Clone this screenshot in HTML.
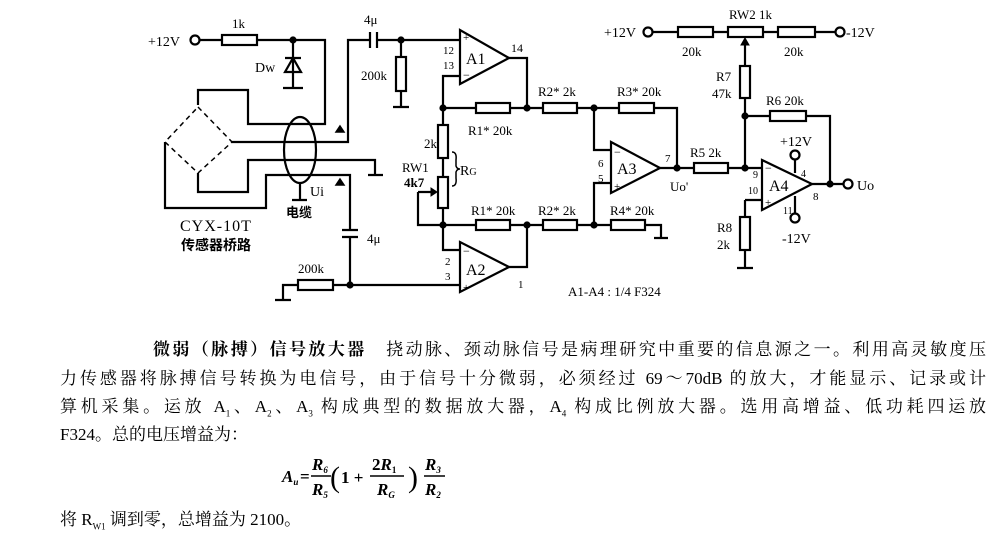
<!DOCTYPE html>
<html><head><meta charset="utf-8"><style>
html,body{margin:0;padding:0;background:#fff;}
body{width:992px;height:558px;position:relative;overflow:hidden;}
svg{position:absolute;left:0;top:0;}
.t{position:absolute;font-family:"Liberation Serif","Noto Serif CJK SC","Noto Sans CJK SC",serif;font-size:17px;color:#000;white-space:nowrap;line-height:22px;}
.j{text-align:justify;text-align-last:justify;white-space:normal;}
sub{line-height:0;}
</style></head><body>
<svg width="992" height="330" viewBox="0 0 992 330" font-family="Liberation Serif, serif" font-size="13" fill="none" stroke="#000" stroke-width="2.2">
<text x="148" y="46" fill="#000" stroke="none" font-size="14">+12V</text>
<circle cx="195" cy="40" r="4.5" fill="#fff"/>
<path d="M200 40H222M257 40H325V124H248V90H198V105"/>
<rect x="222" y="35" width="35" height="10" fill="#fff"/>
<text x="232" y="28" fill="#000" stroke="none">1k</text>
<circle cx="293" cy="40" r="2.5" fill="#000"/>
<path d="M293 40V88M283 88H303M285 72H301L293 58Z M285 58H301"/>
<text x="255" y="72" fill="#000" stroke="none" font-size="14">Dw</text>
<path d="M198 107L232 142L198 173L165 142Z" stroke-dasharray="5,4" stroke-width="1.5"/>
<path d="M232 142H348V40H370M377 40H460M370 32V48M377 32V48"/>
<text x="364" y="24" fill="#000" stroke="none">4μ</text>
<path d="M198 173V192H248V160H375V175M368 175H383"/>
<path d="M165 142V208H266V175H350V230M342 230H358M342 237H358M350 237V285H460"/>
<text x="367" y="243" fill="#000" stroke="none">4μ</text>
<ellipse cx="300" cy="150" rx="16" ry="33"/>
<path d="M300 183V200M292 200H307"/>
<path d="M340 126L344 132L336 132Z M340 179L344 185L336 185Z" fill="#000" stroke-width="1.5"/>
<text x="310" y="196" fill="#000" stroke="none" font-size="14">Ui</text>
<text x="286" y="217" fill="#000" stroke="none" font-size="13" font-weight="bold" font-family="Noto Sans CJK SC, sans-serif">电缆</text>
<text x="180" y="231" fill="#000" stroke="none" font-size="16" letter-spacing="1">CYX-10T</text>
<text x="181" y="250" fill="#000" stroke="none" font-size="14" font-weight="bold" font-family="Noto Sans CJK SC, sans-serif">传感器桥路</text>
<circle cx="401" cy="40" r="2.5" fill="#000"/>
<path d="M401 40V107M393 107H409"/>
<rect x="396" y="57" width="10" height="34" fill="#fff"/>
<text x="361" y="80" fill="#000" stroke="none">200k</text>
<path d="M460 30V84L509 58Z" fill="#fff"/>
<text x="466" y="64" fill="#000" stroke="none" font-size="16">A1</text>
<text x="463" y="41" fill="#000" stroke="none" font-size="11">+</text>
<text x="463" y="79" fill="#000" stroke="none" font-size="12">−</text>
<text x="443" y="54" fill="#000" stroke="none" font-size="11">12</text>
<text x="443" y="69" fill="#000" stroke="none" font-size="11">13</text>
<text x="511" y="52" fill="#000" stroke="none" font-size="12">14</text>
<path d="M509 58H527V108M460 76H443V250H460"/>
<path d="M443 108H594M527 225H594M443 225H527M509 267H527V225"/>
<rect x="476" y="103" width="34" height="10" fill="#fff"/>
<rect x="543" y="103" width="34" height="10" fill="#fff"/>
<circle cx="443" cy="108" r="2.5" fill="#000"/><circle cx="527" cy="108" r="2.5" fill="#000"/><circle cx="594" cy="108" r="2.5" fill="#000"/>
<text x="468" y="135" fill="#000" stroke="none">R1*  20k</text>
<text x="538" y="96" fill="#000" stroke="none">R2*  2k</text>
<rect x="438" y="125" width="10" height="33" fill="#fff"/>
<rect x="438" y="177" width="10" height="31" fill="#fff"/>
<path d="M418 192H435M418 192V225H443"/>
<path d="M437 192L431 188L431 196Z" fill="#000" stroke-width="1"/>
<text x="424" y="148" fill="#000" stroke="none">2k</text>
<text x="402" y="172" fill="#000" stroke="none">RW1</text>
<text x="404" y="187" fill="#000" stroke="none" font-weight="bold">4k7</text>
<path d="M452 152Q457 152 456 160V166Q457 169 460 169Q457 169 456 172V178Q457 186 452 186" stroke-width="1.5"/>
<text x="460" y="175" fill="#000" stroke="none" font-size="14">R<tspan font-size="10">G</tspan></text>
<rect x="476" y="220" width="34" height="10" fill="#fff"/>
<rect x="543" y="220" width="34" height="10" fill="#fff"/>
<circle cx="443" cy="225" r="2.5" fill="#000"/><circle cx="527" cy="225" r="2.5" fill="#000"/><circle cx="594" cy="225" r="2.5" fill="#000"/>
<text x="471" y="215" fill="#000" stroke="none">R1*  20k</text>
<text x="538" y="215" fill="#000" stroke="none">R2*  2k</text>
<path d="M460 242V292L509 267Z" fill="#fff"/>
<text x="466" y="275" fill="#000" stroke="none" font-size="16">A2</text>
<text x="463" y="255" fill="#000" stroke="none" font-size="12">−</text>
<text x="463" y="291" fill="#000" stroke="none" font-size="11">+</text>
<text x="445" y="265" fill="#000" stroke="none" font-size="11">2</text>
<text x="445" y="280" fill="#000" stroke="none" font-size="11">3</text>
<text x="518" y="288" fill="#000" stroke="none" font-size="11">1</text>
<circle cx="350" cy="285" r="2.5" fill="#000"/>
<path d="M350 285H283V300M275 300H291"/>
<rect x="298" y="280" width="35" height="10" fill="#fff"/>
<text x="298" y="273" fill="#000" stroke="none">200k</text>
<path d="M594 108V150H611M594 225V183H611M594 108H677V167M594 225H661V238M654 238H668"/>
<rect x="619" y="103" width="35" height="10" fill="#fff"/>
<rect x="611" y="220" width="34" height="10" fill="#fff"/>
<text x="617" y="96" fill="#000" stroke="none">R3*  20k</text>
<text x="610" y="215" fill="#000" stroke="none">R4*  20k</text>
<path d="M611 142V193L660 168Z" fill="#fff"/>
<text x="617" y="174" fill="#000" stroke="none" font-size="16">A3</text>
<text x="614" y="156" fill="#000" stroke="none" font-size="12">−</text>
<text x="614" y="190" fill="#000" stroke="none" font-size="11">+</text>
<text x="598" y="167" fill="#000" stroke="none" font-size="11">6</text>
<text x="598" y="182" fill="#000" stroke="none" font-size="11">5</text>
<text x="665" y="162" fill="#000" stroke="none" font-size="11">7</text>
<text x="670" y="191" fill="#000" stroke="none">Uo'</text>
<path d="M660 168H762"/>
<circle cx="677" cy="168" r="2.5" fill="#000"/>
<rect x="694" y="163" width="34" height="10" fill="#fff"/>
<text x="690" y="157" fill="#000" stroke="none">R5  2k</text>
<text x="604" y="37" fill="#000" stroke="none" font-size="14">+12V</text>
<circle cx="648" cy="32" r="4.5" fill="#fff"/>
<path d="M653 32H835"/>
<rect x="678" y="27" width="35" height="10" fill="#fff"/>
<rect x="728" y="27" width="35" height="10" fill="#fff"/>
<rect x="778" y="27" width="37" height="10" fill="#fff"/>
<circle cx="840" cy="32" r="4.5" fill="#fff"/>
<text x="846" y="37" fill="#000" stroke="none" font-size="14">-12V</text>
<text x="729" y="19" fill="#000" stroke="none">RW2  1k</text>
<text x="682" y="56" fill="#000" stroke="none">20k</text>
<text x="784" y="56" fill="#000" stroke="none">20k</text>
<path d="M745 40V168M745 116H830V184M745 200V268M737 268H753M745 200H762"/>
<path d="M745 38L741 45L749 45Z" fill="#000" stroke-width="1"/>
<rect x="740" y="66" width="10" height="32" fill="#fff"/>
<text x="716" y="81" fill="#000" stroke="none">R7</text>
<text x="712" y="98" fill="#000" stroke="none">47k</text>
<rect x="770" y="111" width="36" height="10" fill="#fff"/>
<text x="766" y="105" fill="#000" stroke="none">R6  20k</text>
<circle cx="745" cy="116" r="2.5" fill="#000"/><circle cx="745" cy="168" r="2.5" fill="#000"/>
<rect x="740" y="217" width="10" height="33" fill="#fff"/>
<text x="717" y="232" fill="#000" stroke="none">R8</text>
<text x="717" y="249" fill="#000" stroke="none">2k</text>
<path d="M795 173V159M795 196V214"/>
<circle cx="795" cy="155" r="4.5" fill="#fff"/>
<circle cx="795" cy="218" r="4.5" fill="#fff"/>
<path d="M762 160V210L812 184Z" fill="#fff"/>
<text x="769" y="191" fill="#000" stroke="none" font-size="16">A4</text>
<text x="765" y="172" fill="#000" stroke="none" font-size="12">−</text>
<text x="765" y="206" fill="#000" stroke="none" font-size="11">+</text>
<text x="753" y="178" fill="#000" stroke="none" font-size="10">9</text>
<text x="748" y="194" fill="#000" stroke="none" font-size="10">10</text>
<text x="801" y="177" fill="#000" stroke="none" font-size="10">4</text>
<text x="783" y="214" fill="#000" stroke="none" font-size="10">11</text>
<text x="813" y="200" fill="#000" stroke="none" font-size="11">8</text>
<text x="780" y="146" fill="#000" stroke="none" font-size="14">+12V</text>
<text x="782" y="243" fill="#000" stroke="none" font-size="14">-12V</text>
<path d="M812 184H844"/>
<circle cx="830" cy="184" r="2.5" fill="#000"/>
<circle cx="848" cy="184" r="4.5" fill="#fff"/>
<text x="857" y="190" fill="#000" stroke="none" font-size="14">Uo</text>
<text x="568" y="296" fill="#000" stroke="none" font-size="13">A1-A4 : 1/4 F324</text>
</svg>
<div class="t j" style="left:153px;top:339px;width:833px;"><b>微弱（脉搏）信号放大器</b>　挠动脉、颈动脉信号是病理研究中重要的信息源之一。利用高灵敏度压</div>
<div class="t j" style="left:60px;top:368px;width:926px;">力传感器将脉搏信号转换为电信号，由于信号十分微弱，必须经过 69～70dB 的放大，才能显示、记录或计</div>
<div class="t j" style="left:60px;top:396px;width:926px;">算机采集。运放 A<sub style="font-size:9px">1</sub>、A<sub style="font-size:9px">2</sub>、A<sub style="font-size:9px">3</sub> 构成典型的数据放大器，A<sub style="font-size:9px">4</sub> 构成比例放大器。选用高增益、低功耗四运放</div>
<div class="t" style="left:60px;top:424px;">F324。总的电压增益为：</div>
<svg width="992" height="558" style="pointer-events:none" font-family="Liberation Serif, serif" font-style="italic" font-weight="bold" font-size="17" fill="#000">
<text x="282" y="482">A<tspan font-size="9" dy="3">u</tspan></text>
<text x="300" y="482" font-style="normal">=</text>
<line x1="311" y1="476" x2="331" y2="476" stroke="#000" stroke-width="1.5"/>
<text x="312" y="470">R<tspan font-size="9" dy="3">6</tspan></text>
<text x="312" y="495">R<tspan font-size="9" dy="3">5</tspan></text>
<text x="330" y="487" font-style="normal" font-weight="normal" font-size="30">(</text>
<text x="341" y="483" font-style="normal">1 +</text>
<line x1="370" y1="476" x2="404" y2="476" stroke="#000" stroke-width="1.5"/>
<text x="372" y="470" font-style="normal">2<tspan font-style="italic">R</tspan><tspan font-size="9" dy="3">1</tspan></text>
<text x="377" y="495">R<tspan font-size="9" dy="3">G</tspan></text>
<text x="408" y="487" font-style="normal" font-weight="normal" font-size="30">)</text>
<line x1="424" y1="476" x2="445" y2="476" stroke="#000" stroke-width="1.5"/>
<text x="425" y="470">R<tspan font-size="9" dy="3">3</tspan></text>
<text x="425" y="495">R<tspan font-size="9" dy="3">2</tspan></text>
</svg>
<div class="t" style="left:60px;top:509px;">将 R<sub style="font-size:9px">W1</sub> 调到零，总增益为 2100。</div>
</body></html>
